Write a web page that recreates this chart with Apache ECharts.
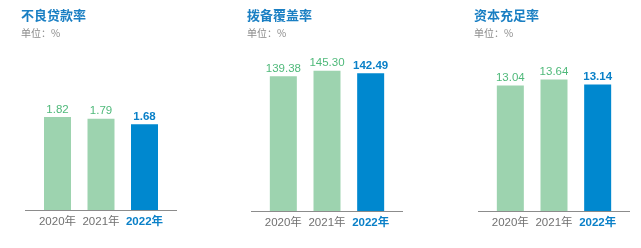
<!DOCTYPE html>
<html>
<head>
<meta charset="utf-8">
<script src="https://cdn.jsdelivr.net/npm/echarts@6/dist/echarts.min.js"></script>
<style>
  html, body { margin: 0; padding: 0; background: #ffffff; }
  #chart { width: 641px; height: 248px; }
</style>
</head>
<body>
<div id="chart"></div>
<script>
// Key indicators, 2020-2022 (unit: %)
const years = ['2020年', '2021年', '2022年'];
const nplRatio = [1.82, 1.79, 1.68];
const provisionCoverage = [139.38, 145.30, 142.49];
const capitalAdequacy = [13.04, 13.64, 13.14];
const panelTitles = ['不良贷款率', '拨备覆盖率', '资本充足率'];
const unitText = '单位：%';

const FONT = '"Liberation Sans", "Noto Sans CJK SC", sans-serif';
const CJK = '"Noto Sans CJK SC", sans-serif';
const GREEN_BAR = '#9dd3af';
const BLUE_BAR = '#0088cf';
const GREEN_TEXT = '#4fb97a';
const BLUE_TEXT = '#0a80c8';
const GRAY_TEXT = '#707070';

// Panel layout: plot box, y max and baseline line extent
const panels = [
  { values: nplRatio,          left: 35.75, width: 130.5, top: 82.4, height: 127.6, max: 2.5, titleX: 21,  line: [25, 177] },
  { values: provisionCoverage, left: 261.5, width: 131,   top: 66.1, height: 144.9, max: 150, titleX: 247, line: [251, 403] },
  { values: capitalAdequacy,   left: 488.5, width: 131,   top: 66.5, height: 144.5, max: 15,  titleX: 474, line: [478, 630] }
];

const chart = echarts.init(document.getElementById('chart'), null, { renderer: 'canvas' });
const last = years.length - 1;

const option = {
  animation: false,
  title: panels.map((p, i) => ({
    text: panelTitles[i],
    subtext: unitText,
    left: p.titleX,
    top: 9,
    padding: 0,
    itemGap: 6,
    textStyle: { fontFamily: CJK, fontSize: 13, fontWeight: 'bold', color: '#1a7fc3' },
    subtextStyle: { fontFamily: CJK, fontSize: 10, color: '#8a8a8a' }
  })),
  grid: panels.map(p => ({ left: p.left, top: p.top, width: p.width, height: p.height, containLabel: false })),
  xAxis: panels.map((p, i) => ({
    type: 'category',
    gridIndex: i,
    data: years,
    axisLine: { show: false },
    axisTick: { show: false },
    axisLabel: {
      interval: 0,
      hideOverlap: false,
      margin: 6,
      fontFamily: FONT,
      fontSize: 11.5,
      color: GRAY_TEXT,
      formatter: (v, idx) => idx === last ? '{hi|' + v + '}' : v,
      rich: { hi: { fontFamily: FONT, fontSize: 11.5, fontWeight: 'bold', color: BLUE_TEXT } }
    }
  })),
  yAxis: panels.map((p, i) => ({
    type: 'value',
    gridIndex: i,
    min: 0,
    max: p.max,
    show: false
  })),
  series: panels.map((p, i) => ({
    type: 'bar',
    xAxisIndex: i,
    yAxisIndex: i,
    barWidth: 27,
    data: p.values.map((v, idx) => ({
      value: v,
      itemStyle: { color: idx === last ? BLUE_BAR : GREEN_BAR },
      label: {
        show: true,
        position: 'top',
        distance: 2,
        fontFamily: FONT,
        fontSize: 11.5,
        fontWeight: idx === last ? 'bold' : 'normal',
        color: idx === last ? BLUE_TEXT : GREEN_TEXT,
        formatter: () => v.toFixed(2)
      }
    }))
  })),
  // Baselines under each group of bars
  graphic: panels.map((p, i) => ({
    type: 'line',
    shape: { x1: p.line[0], y1: i === 0 ? 210.5 : 211.5, x2: p.line[1], y2: i === 0 ? 210.5 : 211.5 },
    style: { stroke: '#8c8c8c', lineWidth: 1 },
    z: 10
  }))
};

chart.setOption(option);
</script>
</body>
</html>
